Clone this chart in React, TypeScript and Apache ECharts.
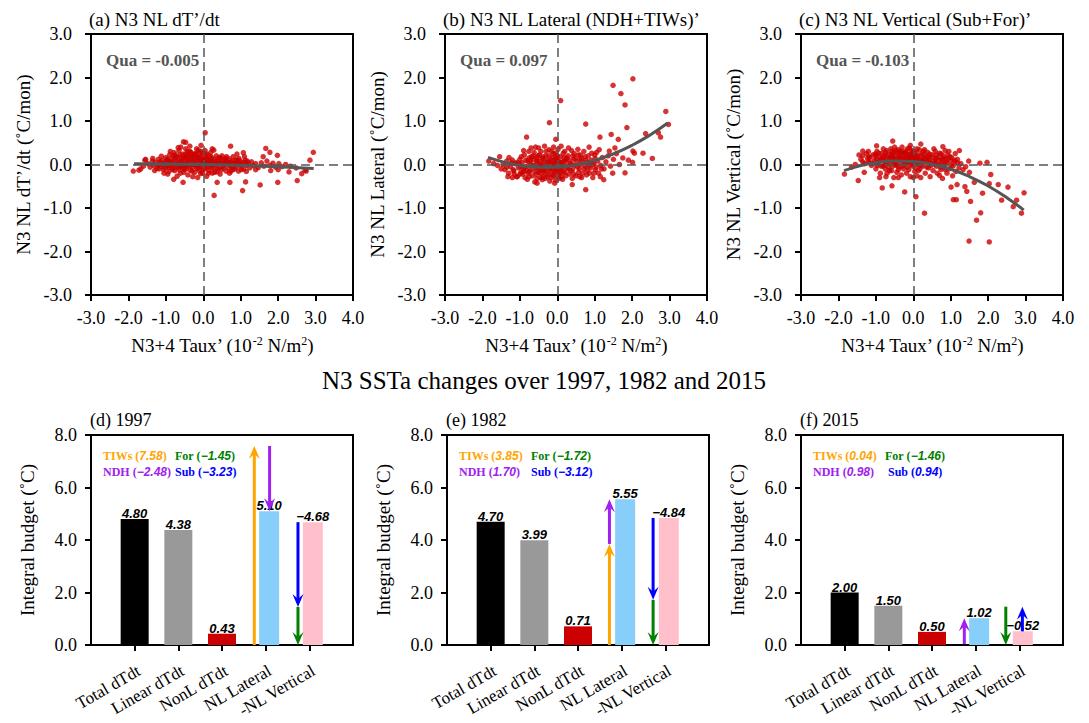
import React, { useEffect, useRef } from 'react';
import * as echarts from 'echarts';

const SERIF = '"Liberation Serif", "Times New Roman", serif';
const SANS = '"Liberation Sans", Arial, sans-serif';

// ---------------- Scatter panels (a)-(c) ----------------
const panelTitles = ['(a) N3 NL dT’/dt', '(b) N3 NL Lateral (NDH+TIWs)’', '(c) N3 NL Vertical (Sub+For)’'];
const yAxisNames = ['N3 NL dT’/dt (˚C/mon)', 'N3 NL Lateral (˚C/mon)', 'N3 NL Vertical (˚C/mon)'];
const quaValues = ['-0.005', '0.097', '-0.103'];

const ndtPoints: number[][] = [
  [-1.48,0.02],[-1.42,-0.06],[-1.36,0.08],[-1.33,-0.02],[-1.28,0.05],[-1.24,-0.09],[-1.2,0.12],[-1.17,0.01],[-1.13,-0.05],[-1.1,0.09],
  [-1.06,-0.12],[-1.03,0.04],[-1.0,0.16],[-0.97,-0.03],[-0.94,0.08],[-0.92,-0.16],[-0.9,0.22],[-0.87,0.02],[-0.85,0.13],[-0.83,-0.08],
  [-0.8,0.06],[-0.78,0.27],[-0.76,-0.14],[-0.73,0.1],[-0.71,0.01],[-0.69,0.18],[-0.67,-0.06],[-0.65,0.32],[-0.63,0.07],[-0.61,-0.2],
  [-0.59,0.14],[-0.57,-0.02],[-0.55,0.24],[-0.53,0.04],[-0.51,-0.11],[-0.49,0.17],[-0.47,0.36],[-0.45,-0.04],[-0.43,0.09],[-0.41,-0.24],
  [-0.39,0.2],[-0.37,0.02],[-0.35,-0.13],[-0.33,0.28],[-0.31,0.11],[-0.29,-0.06],[-0.27,0.19],[-0.25,0.0],[-0.23,-0.18],[-0.21,0.25],
  [-0.19,0.07],[-0.17,-0.09],[-0.15,0.14],[-0.13,0.33],[-0.11,-0.03],[-0.09,0.1],[-0.07,-0.21],[-0.05,0.2],[-0.03,0.03],[-0.01,-0.12],
  [0.01,0.26],[0.03,0.08],[0.05,-0.05],[0.07,0.15],[0.09,-0.27],[0.11,0.02],[0.13,0.21],[0.15,-0.14],[0.17,0.09],[0.19,-0.03],
  [0.22,0.17],[0.24,-0.2],[0.26,0.05],[0.29,-0.09],[0.31,0.12],[0.34,-0.01],[0.37,-0.17],[0.4,0.08],[0.43,-0.06],[0.46,0.15],
  [0.49,-0.12],[0.52,0.03],[0.55,-0.02],[0.58,0.11],[0.61,-0.15],[0.64,0.05],[0.67,-0.08],[0.7,0.13],[0.73,-0.03],[0.76,0.07],
  [0.79,-0.12],[0.82,0.02],[0.85,0.1],[0.88,-0.06],[0.91,0.04],[0.94,-0.15],[0.97,0.09],[1.0,-0.04],[1.04,0.05],[1.08,-0.1],
  [1.12,0.1],[1.16,-0.02],[1.2,0.04],[1.24,-0.08],[1.29,0.06],[1.34,-0.03],[1.4,0.02],[1.47,-0.07],[1.55,0.04],[1.62,-0.04],
  [1.7,0.08],[1.78,-0.02],[1.86,0.03],[1.93,-0.06],[2.02,0.02],[2.1,-0.05],[2.2,0.0],[2.33,-0.04],[2.48,-0.08],[2.75,-0.15],
  [-1.6,-0.04],[-1.67,-0.1],[-1.72,-0.13],[-1.56,0.1],[-1.12,0.19],[-0.95,-0.22],[-0.88,0.3],[-0.7,-0.27],[-0.6,0.4],[-0.42,0.3],
  [-0.36,0.42],[-0.28,-0.28],[-0.18,0.36],[-0.1,0.27],[0.05,0.32],[0.2,0.28],[0.28,0.33],[-0.8,0.2],[-0.62,0.22],[-0.52,-0.18],
  [-0.32,0.22],[-0.15,-0.3],[0.0,0.1],[0.15,0.05],[0.35,0.2],[0.5,0.2],[0.62,0.18],[0.8,0.18],[0.95,0.14],[1.1,0.18],
  [0.45,-0.22],[0.7,-0.2],[1.15,-0.16],[-1.3,-0.14],[-1.05,-0.2],
  [-1.18,-0.1],[-1.08,0.0],[-0.98,0.1],[-0.93,-0.07],[-0.86,0.06],[-0.79,-0.02],[-0.74,0.16],[-0.68,0.04],[-0.64,-0.12],[-0.58,0.08],
  [-0.54,0.15],[-0.5,0.0],[-0.46,-0.1],[-0.44,0.2],[-0.4,0.05],[-0.38,-0.04],[-0.34,0.14],[-0.3,-0.15],[-0.26,0.08],[-0.24,0.24],
  [-0.2,-0.02],[-0.16,0.18],[-0.14,-0.08],[-0.12,0.06],[-0.08,0.16],[-0.06,-0.05],[-0.04,0.08],[-0.02,-0.2],[0.02,0.12],[0.04,-0.1],
  [0.06,0.02],[0.1,0.14],[0.12,-0.06],[0.16,0.04],[0.2,0.12],[0.23,-0.08],[0.27,0.02],[0.32,0.08],[0.36,0.02],[0.39,-0.1],
  [0.44,0.04],[0.48,0.08],[0.54,-0.08],[0.57,0.0],[0.62,0.08],[0.68,0.02],[0.72,0.05],[0.78,-0.05],[0.84,-0.1],[0.9,0.1],
  [0.98,0.0],[1.02,-0.12],[1.1,0.04],[-0.96,0.12],[-0.82,-0.12],[-0.72,-0.06],[-0.56,-0.07],[-0.48,0.24],[-0.32,0.0],[-0.22,0.12],
  [-0.1,-0.14],[0.0,0.04],[0.08,0.24],[0.18,0.18],[0.3,-0.18],[0.42,0.16],[0.6,0.14],[0.74,-0.15],[0.86,0.0],[1.18,0.08],
  [-1.35,0.14],[-1.22,-0.02],[-1.15,0.06],[-1.02,-0.08],[-0.9,-0.02],[-0.75,0.22],[-0.62,-0.02],[-0.45,0.12],[-0.36,0.3],[-0.2,0.22],
  [-0.05,0.3],[0.14,-0.2],
  [0.05,0.73],[0.29,-0.71],[1.05,-0.6],[1.52,-0.47],[1.99,-0.41],[2.51,-0.37],[2.94,0.28],[2.85,0.1],[2.63,-0.21],[2.29,-0.17],
  [1.98,0.21],[1.78,0.28],[1.67,0.37],[1.6,0.18],[1.07,0.27],[0.73,0.42],[0.71,-0.41],[0.37,-0.41],[1.13,-0.4],[-0.53,0.52],
  [-0.47,0.51],[-0.67,0.39],[-0.54,-0.41],[-0.79,-0.34],[-1.87,-0.15],[-1.54,0.12],[-0.06,0.44],[0.24,0.36],[2.72,-0.13],[1.8,-0.14],
  [2.0,-0.12],[1.4,-0.12],[0.9,0.24]
];

const lateralPoints: number[][] = [
  [-1.45,0.0],[-1.4,-0.12],[-1.35,0.08],[-1.3,-0.2],[-1.25,-0.05],[-1.2,0.1],[-1.16,-0.15],[-1.12,0.02],[-1.08,-0.28],[-1.04,-0.08],
  [-1.0,0.12],[-0.97,-0.18],[-0.94,0.04],[-0.91,-0.1],[-0.88,0.22],[-0.86,-0.3],[-0.84,0.1],[-0.81,-0.04],[-0.78,-0.2],[-0.76,0.3],
  [-0.73,0.05],[-0.71,-0.12],[-0.69,0.18],[-0.66,-0.26],[-0.64,-0.02],[-0.62,0.12],[-0.6,-0.16],[-0.58,0.4],[-0.56,0.02],[-0.54,-0.32],
  [-0.52,0.2],[-0.5,-0.08],[-0.48,0.08],[-0.46,-0.2],[-0.44,0.3],[-0.42,-0.02],[-0.4,0.14],[-0.38,-0.28],[-0.36,0.03],[-0.34,0.42],
  [-0.32,-0.12],[-0.3,0.2],[-0.28,-0.05],[-0.26,0.1],[-0.24,-0.22],[-0.22,0.34],[-0.2,-0.1],[-0.18,0.05],[-0.16,-0.3],[-0.14,0.16],
  [-0.12,-0.02],[-0.1,0.25],[-0.08,-0.15],[-0.06,0.08],[-0.04,-0.36],[-0.02,0.12],[0.0,-0.06],[0.02,0.35],[0.04,-0.2],[0.06,0.02],
  [0.08,0.18],[0.1,-0.1],[0.12,-0.28],[0.14,0.06],[0.16,0.26],[0.18,-0.04],[0.2,-0.18],[0.23,0.1],[0.26,-0.08],[0.29,0.2],
  [0.32,-0.22],[0.35,0.02],[0.38,0.32],[0.41,-0.12],[0.44,0.12],[0.47,-0.02],[0.5,-0.26],[0.53,0.06],[0.56,0.22],[0.59,-0.1],
  [0.62,0.0],[0.65,0.14],[0.68,-0.2],[0.71,0.3],[0.74,-0.04],[0.77,0.1],[0.8,-0.14],[0.83,0.2],[0.86,0.04],[0.89,-0.08],
  [0.92,0.26],[0.95,0.0],[0.98,-0.2],[1.01,0.14],[1.04,-0.06],[1.08,0.08],[1.12,0.34],[1.16,-0.02],[1.2,0.16],[1.25,-0.1],
  [1.3,0.06],[1.36,0.2],[1.42,-0.04],[1.5,0.12],[1.58,0.25],[1.66,0.0],[1.75,0.15],[1.9,0.1],
  [-1.6,-0.02],[-1.7,0.02],[-1.5,-0.1],[-1.2,-0.3],[-1.0,-0.22],[-0.9,0.32],[-0.8,-0.34],[-0.7,0.38],[-0.6,-0.4],[-0.5,0.38],
  [-0.4,-0.35],[-0.3,0.3],[-0.2,-0.38],[-0.1,0.4],[0.0,0.2],[0.1,0.42],[0.2,0.3],[0.3,0.38],[0.4,-0.32],[0.55,0.35],
  [0.65,-0.3],[0.85,0.4],[0.95,-0.3],[1.05,0.28],[1.15,-0.28],[-0.75,0.15],[-0.55,0.15],[-0.35,-0.15],[-0.15,0.3],[0.05,-0.32],
  [0.25,0.15],[0.45,0.25],[0.6,0.12],[0.8,0.05],[1.0,0.22],
  [-1.18,-0.12],[-1.08,0.05],[-0.98,-0.05],[-0.93,-0.22],[-0.86,-0.06],[-0.79,0.08],[-0.74,-0.16],[-0.68,-0.02],[-0.64,0.2],[-0.58,-0.08],
  [-0.54,0.08],[-0.5,-0.18],[-0.46,0.0],[-0.44,-0.3],[-0.4,-0.1],[-0.38,0.18],[-0.34,-0.2],[-0.3,-0.02],[-0.26,-0.28],[-0.24,0.06],
  [-0.2,-0.16],[-0.16,0.1],[-0.14,-0.1],[-0.12,-0.24],[-0.08,0.02],[-0.06,-0.18],[-0.04,0.16],[-0.02,-0.1],[0.02,-0.28],[0.04,0.08],
  [0.06,-0.12],[0.1,0.04],[0.12,-0.04],[0.16,-0.16],[0.2,0.08],[0.23,-0.26],[0.27,-0.02],[0.32,0.1],[0.36,-0.14],[0.39,0.0],
  [0.44,-0.22],[0.48,0.14],[0.54,-0.06],[0.57,-0.18],[0.62,0.22],[0.68,0.06],[0.72,-0.1],[0.78,-0.24],[0.84,-0.04],[0.9,0.1],
  [0.98,0.04],[1.02,-0.12],[1.1,-0.2],[-0.96,0.18],[-0.82,-0.14],[-0.72,0.1],[-0.56,-0.22],[-0.48,0.22],[-0.32,-0.32],[-0.22,0.2],
  [-0.1,-0.26],[0.0,0.06],[0.08,-0.2],[0.18,0.16],[0.3,-0.1],[0.42,0.2],[0.6,-0.28],[0.74,0.18],[0.86,-0.2],[1.18,-0.1],
  [-1.35,-0.06],[-1.22,0.04],[-1.15,-0.22],[-1.02,0.02],[-0.9,-0.16],[-0.75,-0.28],[-0.62,0.28],[-0.45,-0.12],[-0.36,0.1],[-0.2,0.0],
  [-0.05,0.26],[0.14,-0.34],
  [2.02,1.97],[1.49,1.82],[1.7,1.63],[1.81,1.37],[0.09,1.47],[2.9,1.22],[2.97,0.92],[0.76,0.93],[-0.21,0.96],[1.86,0.85],
  [2.36,0.71],[2.7,0.73],[2.76,0.63],[1.44,0.69],[1.14,0.63],[1.63,0.58],[-0.82,0.63],[-0.04,0.58],[1.54,0.38],[1.39,0.31],
  [2.02,0.31],[2.06,0.26],[2.29,0.26],[2.01,0.05],[2.54,0.14],[1.81,-0.19],[1.48,-0.2],[1.24,-0.35],[0.76,-0.58],[0.4,-0.46],
  [-1.83,0.08],[-1.54,0.18],[-1.29,0.16],[-1.32,-0.28],[-1.07,-0.28],[-0.54,-0.43],[-0.07,-0.43]
];

const verticalPoints: number[][] = [
  [-1.4,0.12],[-1.35,0.2],[-1.3,0.02],[-1.25,0.25],[-1.2,0.08],[-1.16,0.16],[-1.12,-0.02],[-1.08,0.22],[-1.04,0.1],[-1.0,-0.1],
  [-0.97,0.3],[-0.94,0.04],[-0.91,0.18],[-0.88,-0.2],[-0.86,0.12],[-0.84,0.26],[-0.81,-0.04],[-0.78,0.2],[-0.76,0.06],[-0.73,-0.28],
  [-0.71,0.32],[-0.69,0.14],[-0.66,-0.06],[-0.64,0.24],[-0.62,0.02],[-0.6,0.36],[-0.58,-0.14],[-0.56,0.18],[-0.54,0.08],[-0.52,-0.3],
  [-0.5,0.28],[-0.48,0.0],[-0.46,0.22],[-0.44,-0.18],[-0.42,0.12],[-0.4,0.34],[-0.38,-0.06],[-0.36,0.2],[-0.34,0.04],[-0.32,-0.24],
  [-0.3,0.3],[-0.28,0.1],[-0.26,-0.1],[-0.24,0.26],[-0.22,0.0],[-0.2,0.16],[-0.18,-0.2],[-0.16,0.36],[-0.14,0.06],[-0.12,-0.12],
  [-0.1,0.24],[-0.08,-0.28],[-0.06,0.12],[-0.04,0.32],[-0.02,-0.04],[0.0,0.2],[0.02,0.02],[0.04,-0.16],[0.06,0.28],[0.08,0.08],
  [0.1,-0.26],[0.12,0.18],[0.14,0.0],[0.16,0.34],[0.18,-0.1],[0.2,0.12],[0.23,0.24],[0.26,-0.04],[0.29,0.16],[0.32,-0.2],
  [0.35,0.06],[0.38,0.28],[0.41,-0.08],[0.44,0.12],[0.47,0.02],[0.5,0.22],[0.53,-0.14],[0.56,0.08],[0.59,0.3],[0.62,-0.04],
  [0.65,0.16],[0.68,0.0],[0.71,0.26],[0.74,-0.12],[0.77,0.1],[0.8,0.2],[0.83,-0.06],[0.86,0.14],[0.89,0.04],[0.92,0.22],
  [0.95,-0.1],[0.98,0.08],[1.02,0.16],[1.06,-0.04],[1.1,0.1],[1.14,-0.16],[1.18,0.04],[1.22,-0.08],[1.27,0.02],[1.33,-0.12],
  [1.4,-0.05],[1.5,-0.18],
  [-1.55,0.0],[-1.65,-0.06],[-1.45,0.22],[-1.2,0.3],[-1.0,0.2],[-0.9,-0.3],[-0.8,0.36],[-0.7,-0.2],[-0.6,0.16],[-0.5,0.4],
  [-0.4,-0.3],[-0.3,0.4],[-0.2,0.3],[-0.1,0.38],[0.0,-0.3],[0.1,0.36],[0.2,-0.3],[0.3,0.34],[0.45,-0.28],[0.55,0.36],
  [0.7,-0.25],[0.85,0.32],[0.95,0.3],[1.05,-0.26],[1.12,0.25],[-0.75,0.0],[-0.55,-0.04],[-0.35,0.14],[-0.15,0.14],[0.05,0.1],
  [0.25,0.08],[0.4,0.18],[0.6,0.12],[0.75,0.02],[0.9,-0.2],
  [-1.18,0.18],[-1.08,0.02],[-0.98,0.12],[-0.93,0.26],[-0.86,-0.04],[-0.79,0.1],[-0.74,0.28],[-0.68,0.06],[-0.64,-0.14],[-0.58,0.24],
  [-0.54,0.16],[-0.5,0.04],[-0.46,0.32],[-0.44,0.08],[-0.4,-0.12],[-0.38,0.22],[-0.34,0.12],[-0.3,-0.04],[-0.26,0.18],[-0.24,0.06],
  [-0.2,0.26],[-0.16,-0.06],[-0.14,0.22],[-0.12,0.1],[-0.08,0.18],[-0.06,0.0],[-0.04,0.14],[-0.02,0.26],[0.02,0.1],[0.04,0.22],
  [0.06,-0.08],[0.1,0.16],[0.12,0.04],[0.16,0.22],[0.2,-0.02],[0.23,0.1],[0.27,0.3],[0.32,0.12],[0.36,-0.06],[0.39,0.16],
  [0.44,0.24],[0.48,-0.02],[0.54,0.16],[0.57,0.02],[0.62,0.22],[0.68,0.1],[0.72,-0.06],[0.78,0.14],[0.84,0.02],[0.9,0.12],
  [0.98,0.18],[1.02,-0.02],[1.1,0.06],[-0.96,-0.02],[-0.82,0.16],[-0.72,0.2],[-0.56,0.3],[-0.48,0.14],[-0.32,0.26],[-0.22,0.16],
  [-0.1,0.06],[0.0,0.3],[0.08,0.12],[0.18,0.06],[0.3,0.22],[0.42,0.08],[0.6,0.0],[0.74,0.24],[0.86,-0.12],[1.18,0.12],
  [-1.35,0.06],[-1.22,0.14],[-1.15,0.04],[-1.02,0.24],[-0.9,0.08],[-0.75,-0.1],[-0.62,0.12],[-0.45,-0.02],[-0.36,0.3],[-0.2,0.06],
  [-0.05,0.22],[0.14,-0.14],
  [1.49,-1.76],[2.03,-1.78],[1.69,-1.28],[1.8,-1.11],[2.89,-1.12],[2.67,-0.97],[2.76,-0.82],[2.36,-0.82],[2.96,-0.65],[2.53,-0.52],
  [2.27,-0.46],[2.03,-0.44],[2.07,-0.23],[1.85,-0.66],[1.53,-0.85],[1.07,-0.81],[1.15,-0.81],[1.43,-0.62],[1.38,-0.51],[1.63,-0.41],
  [1.17,-0.46],[0.3,-1.12],[0.07,-0.74],[-0.23,-0.63],[-0.83,-0.54],[-0.57,-0.49],[-1.47,-0.37],[-1.84,-0.22],[-1.31,-0.18],[-0.98,0.43],
  [-0.55,0.54],[0.2,0.47],[-0.08,0.44],[0.79,0.41],[1.23,0.32],[0.78,-0.32],[1.01,-0.52],[1.48,0.08],[1.78,0.03],[1.97,0.05],
  [-1.35,0.31],[0.64,-0.2]
];

// quadratic fit curves
const ndtFit: number[][] = [[-1.85,0.015],[-1.0,0.013],[0.0,0.002],[1.0,-0.02],[2.0,-0.051],[2.95,-0.09]];
const lateralFit: number[][] = [[-1.85,0.165],[-1.5,0.072],[-1.0,-0.021],[-0.5,-0.065],[0.0,-0.06],[0.5,-0.007],[1.0,0.095],[1.5,0.245],[2.0,0.443],[2.5,0.69],[2.95,0.954]];
const verticalFit: number[][] = [[-1.85,-0.142],[-1.5,-0.048],[-1.0,0.043],[-0.5,0.082],[0.0,0.07],[0.5,0.006],[1.0,-0.109],[1.5,-0.276],[2.0,-0.494],[2.5,-0.764],[2.95,-1.05]];

// ---------------- Budget panels (d)-(f) ----------------
const budgetCategories = ['Total dTdt', 'Linear dTdt', 'NonL dTdt', 'NL Lateral', '-NL Vertical'];
const years = ['1997', '1982', '2015'];
const totalDTdt = [4.80, 4.70, 2.00];
const linearDTdt = [4.38, 3.99, 1.50];
const nonlDTdt = [0.43, 0.71, 0.50];
const nlLateral = [5.10, 5.55, 1.02];
const nlVertical = [-4.68, -4.84, -0.52];
const tiws = [7.58, 3.85, 0.04];
const ndh = [-2.48, 1.70, 0.98];
const forc = [-1.45, -1.72, -1.46];
const sub = [-3.23, -3.12, 0.94];

// layout (not data)
const topLefts = [91, 445, 801];
const botLefts = [91, 447, 801];
const barX = [1, 2, 3, 4.08, 5.08];
const barColors = ['#000000', '#999999', '#cc0000', '#87cefa', '#ffc0cb'];
const barWidths = [28, 28, 28, 20, 20];
// x positions of arrows [TIWs, NDH, Sub, For] per panel
const arrowXs = [[3.74, 4.09, 4.74, 4.74], [3.72, 3.72, 4.72, 4.72], [3.74, 3.74, 5.07, 4.69]];
const ORANGE = '#ffa500', PURPLE = '#a020f0', BLUE = '#0000ff', GREEN = '#008000';
const arrowColors = [ORANGE, PURPLE, BLUE, GREEN];

const fmt2 = (v: number) => (v < 0 ? '−' : '') + Math.abs(v).toFixed(2);

function buildOption() {
  const grid: any[] = [];
  const xAxis: any[] = [];
  const yAxis: any[] = [];
  const series: any[] = [];
  const graphic: any[] = [];

  const axisLineStyle = { color: '#000', width: 2 };
  const tickLabel = { fontFamily: SERIF, fontSize: 18, color: '#000' };

  const scatterSets = [ndtPoints, lateralPoints, verticalPoints];
  const fits = [ndtFit, lateralFit, verticalFit];

  for (let i = 0; i < 3; i++) {
    grid.push({
      left: topLefts[i], top: 34, width: 262, height: 261, show: true, borderColor: '#000', borderWidth: 2,
      containLabel: false, outerBoundsMode: 'none',
    });
    xAxis.push({
      gridIndex: i, type: 'value', min: -3, max: 4, interval: 1,
      axisLine: { show: true, onZero: false, lineStyle: axisLineStyle },
      axisTick: { show: true, inside: false, length: 6, lineStyle: axisLineStyle },
      axisLabel: { ...tickLabel, margin: 14, formatter: (v: number) => v.toFixed(1) },
      splitLine: { show: false },
      name: 'N3+4 Taux’ (10{sup|-2} N/m{sup|2})',
      nameLocation: 'middle', nameGap: 40,
      nameTextStyle: {
        fontFamily: SERIF, fontSize: 19, color: '#000',
        rich: { sup: { fontFamily: SERIF, fontSize: 12, color: '#000', verticalAlign: 'top', lineHeight: 20 } },
      },
    });
    yAxis.push({
      gridIndex: i, type: 'value', min: -3, max: 3, interval: 1,
      axisLine: { show: true, onZero: false, lineStyle: axisLineStyle },
      axisTick: { show: true, inside: false, length: 6, lineStyle: axisLineStyle },
      axisLabel: { ...tickLabel, margin: 19, formatter: (v: number) => v.toFixed(1) },
      splitLine: { show: false },
      name: yAxisNames[i], nameLocation: 'middle', nameGap: 58,
      nameTextStyle: { fontFamily: SERIF, fontSize: 19, color: '#000' },
    });
    series.push({
      type: 'scatter', xAxisIndex: i, yAxisIndex: i, data: scatterSets[i],
      symbolSize: 5.5, itemStyle: { color: '#cc0000' }, z: 2, silent: true,
    });
    series.push({
      type: 'line', xAxisIndex: i, yAxisIndex: i, data: fits[i], smooth: true,
      symbol: 'none', showSymbol: false, lineStyle: { color: '#555555', width: 3 }, z: 4, silent: true,
      markLine: {
        silent: true, symbol: 'none', label: { show: false },
        lineStyle: { color: '#555555', type: [9, 5], width: 1.5 },
        data: [{ xAxis: 0 }, { yAxis: 0 }],
      },
    });
    graphic.push({
      type: 'text', x: topLefts[i] - 2, y: 19,
      style: { text: panelTitles[i], font: `19px ${SERIF}`, fill: '#000', align: 'left', verticalAlign: 'middle', textAlign: 'left', textVerticalAlign: 'middle' },
    });
    graphic.push({
      type: 'text', x: topLefts[i] + 15, y: 60,
      style: { text: 'Qua = ' + quaValues[i], font: `bold 17px ${SERIF}`, fill: '#555555', align: 'left', verticalAlign: 'middle', textAlign: 'left', textVerticalAlign: 'middle' },
    });
  }

  graphic.push({
    type: 'text', x: 544, y: 380,
    style: { text: 'N3 SSTa changes over 1997, 1982 and 2015', font: `25px ${SERIF}`, fill: '#000', align: 'center', verticalAlign: 'middle', textAlign: 'center', textVerticalAlign: 'middle' },
  });

  const catData = ['', ...budgetCategories, ''];
  const showCat = (idx: number) => idx > 0 && idx < 6;

  for (let j = 0; j < 3; j++) {
    const g = 3 + j;
    grid.push({
      left: botLefts[j], top: 435, width: 262, height: 210, show: true, borderColor: '#000', borderWidth: 2,
      containLabel: false, outerBoundsMode: 'none',
    });
    xAxis.push({
      gridIndex: g, type: 'category', data: catData, boundaryGap: false,
      axisLine: { show: true, onZero: false, lineStyle: axisLineStyle },
      axisTick: { show: true, inside: false, length: 6, lineStyle: axisLineStyle, interval: showCat },
      axisLabel: { ...tickLabel, fontSize: 17, rotate: 30, margin: 17, interval: showCat, verticalAlign: 'top', align: 'right' },
      splitLine: { show: false },
    });
    yAxis.push({
      gridIndex: g, type: 'value', min: 0, max: 8, interval: 2,
      axisLine: { show: true, onZero: false, lineStyle: axisLineStyle },
      axisTick: { show: true, inside: false, length: 6, lineStyle: axisLineStyle },
      axisLabel: { ...tickLabel, margin: 14, formatter: (v: number) => v.toFixed(1) },
      splitLine: { show: false },
      name: 'Integral budget (˚C)', nameLocation: 'middle', nameGap: 54,
      nameTextStyle: { fontFamily: SERIF, fontSize: 19, color: '#000' },
    });
  }
  // hidden numeric x axes for the custom marks
  for (let j = 0; j < 3; j++) {
    xAxis.push({ gridIndex: 3 + j, type: 'value', min: 0, max: 6, show: false, splitLine: { show: false } });
  }

  for (let j = 0; j < 3; j++) {
    const values = [totalDTdt[j], linearDTdt[j], nonlDTdt[j], nlLateral[j], -nlVertical[j]];
    const labels = [totalDTdt[j], linearDTdt[j], nonlDTdt[j], nlLateral[j], nlVertical[j]].map(fmt2);
    const barData = values.map((v, k) => [barX[k], v, k]);
    series.push({
      type: 'custom', xAxisIndex: 6 + j, yAxisIndex: 3 + j, data: barData, silent: true, z: 2,
      renderItem: (params: any, api: any) => {
        const x = api.value(0), v = api.value(1), k = api.value(2);
        const top = api.coord([x, v]);
        const base = api.coord([x, 0]);
        const w = barWidths[k];
        return {
          type: 'group',
          children: [
            { type: 'rect', shape: { x: top[0] - w / 2, y: top[1], width: w, height: base[1] - top[1] }, style: { fill: barColors[k] } },
            {
              type: 'text', x: top[0], y: top[1] + 1,
              style: { text: labels[k], font: `italic bold 13px ${SANS}`, fill: '#000', align: 'center', verticalAlign: 'bottom', textAlign: 'center', textVerticalAlign: 'bottom' },
            },
          ],
        };
      },
    });

    const vTop = -nlVertical[j];
    const ax = arrowXs[j];
    const arrowData = [
      [ax[0], 0, tiws[j], 0],
      [ax[1], tiws[j], tiws[j] + ndh[j], 1],
      [ax[2], vTop, vTop + sub[j], 2],
      [ax[3], vTop + sub[j], vTop + sub[j] + forc[j], 3],
    ];
    series.push({
      type: 'custom', xAxisIndex: 6 + j, yAxisIndex: 3 + j, data: arrowData, silent: true, z: 5,
      renderItem: (params: any, api: any) => {
        const x = api.value(0), y0 = api.value(1), y1 = api.value(2), c = api.value(3);
        const p0 = api.coord([x, y0]);
        const p1 = api.coord([x, y1]);
        const len = Math.abs(p1[1] - p0[1]);
        if (len < 6) return null;
        const dir = p1[1] > p0[1] ? 1 : -1;
        const hl = 13, hw = 5.5;
        const color = arrowColors[c];
        return {
          type: 'group',
          children: [
            { type: 'line', shape: { x1: p0[0], y1: p0[1], x2: p1[0], y2: p1[1] - dir * hl * 0.6 }, style: { stroke: color, lineWidth: 3 } },
            {
              type: 'polygon',
              shape: { points: [[p1[0], p1[1]], [p1[0] - hw, p1[1] - dir * hl], [p1[0], p1[1] - dir * hl * 0.62], [p1[0] + hw, p1[1] - dir * hl]] },
              style: { fill: color },
            },
          ],
        };
      },
    });

    const L = botLefts[j];
    graphic.push({
      type: 'text', x: L - 1, y: 420,
      style: { text: `(${'def'[j]}) ${years[j]}`, font: `18px ${SERIF}`, fill: '#000', align: 'left', verticalAlign: 'middle', textAlign: 'left', textVerticalAlign: 'middle' },
    });
    const legendItems = [
      { name: 'TIWs', v: tiws[j], color: ORANGE, dx: 12, y: 455.5 },
      { name: 'For', v: forc[j], color: GREEN, dx: 84, y: 455.5 },
      { name: 'NDH', v: ndh[j], color: PURPLE, dx: 12, y: 471.7 },
      { name: 'Sub', v: sub[j], color: BLUE, dx: j === 2 ? 87 : 84, y: 471.7 },
    ];
    legendItems.forEach((it) => {
      graphic.push({
        type: 'text', x: L + it.dx, y: it.y,
        style: {
          text: `{n|${it.name} (}{v|${fmt2(it.v)}}{n|)}`,
          align: 'left', verticalAlign: 'middle', textAlign: 'left', textVerticalAlign: 'middle',
          fill: it.color,
          rich: {
            n: { fontFamily: SERIF, fontWeight: 'bold', fontSize: 12, fill: it.color, color: it.color },
            v: { fontFamily: SANS, fontWeight: 'bold', fontStyle: 'italic', fontSize: 12, fill: it.color, color: it.color },
          },
        },
      });
    });
  }

  return {
    animation: false,
    backgroundColor: '#ffffff',
    grid, xAxis, yAxis, series, graphic,
  };
}

export default function App() {
  const ref = useRef<HTMLDivElement>(null);
  useEffect(() => {
    if (!ref.current) return;
    const chart = echarts.init(ref.current, null, { renderer: 'svg' });
    chart.setOption(buildOption() as any);
    return () => chart.dispose();
  }, []);
  return (
    <div
      ref={ref}
      style={{ position: 'fixed', left: 0, top: 0, width: 1089, height: 723, background: '#ffffff' }}
    />
  );
}
